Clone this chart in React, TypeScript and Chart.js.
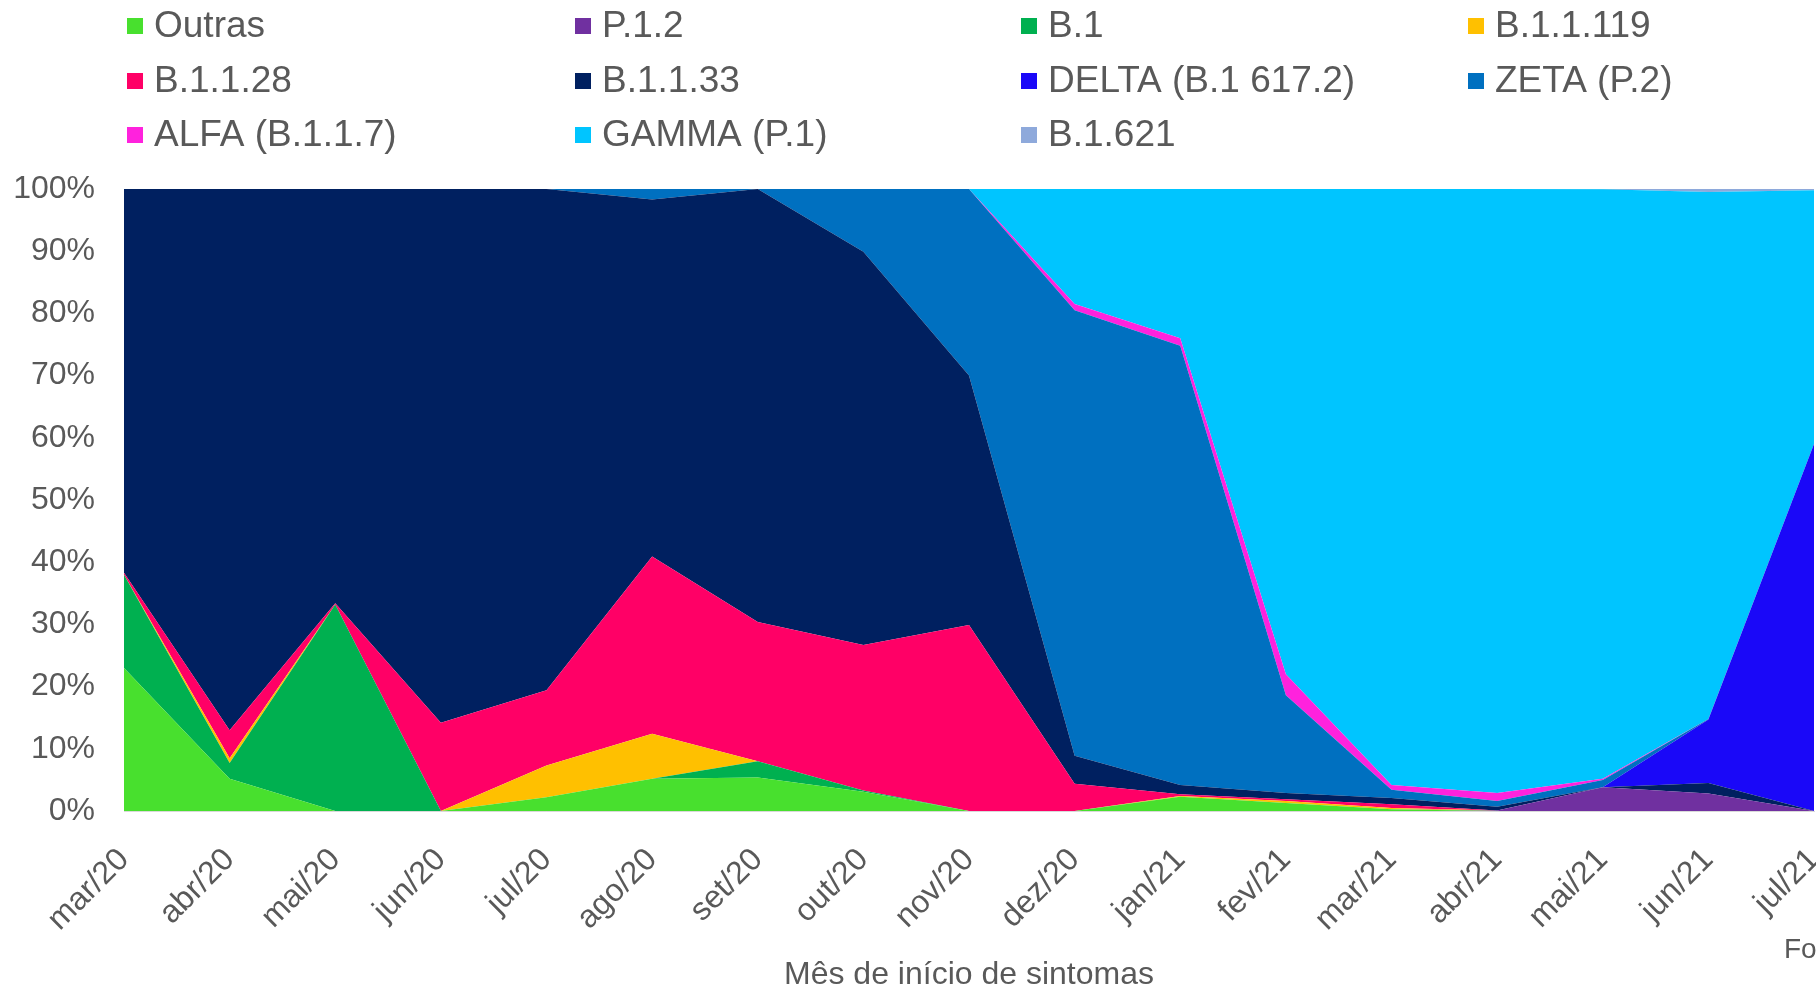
import React, { useEffect, useRef } from "react";
import { Chart, registerables } from "chart.js";
Chart.register(...registerables);

const months = ["mar/20", "abr/20", "mai/20", "jun/20", "jul/20", "ago/20", "set/20", "out/20", "nov/20", "dez/20", "jan/21", "fev/21", "mar/21", "abr/21", "mai/21", "jun/21", "jul/21"];

const outras = [23, 5.2, 0, 0, 2.2, 5.2, 5.4, 3.1, 0, 0, 2.3, 1.3, 0.3, 0, 0, 0, 0];
const p12 = [0, 0, 0, 0, 0, 0, 0, 0, 0, 0, 0, 0, 0, 0.1, 3.8, 2.8, 0];
const b1 = [15, 2.5, 33.2, 0, 0, 0, 2.6, 0.2, 0, 0, 0, 0, 0, 0, 0, 0, 0];
const b11119 = [0, 0.8, 0, 0, 5.1, 7.2, 0, 0, 0, 0, 0.1, 0.3, 0.2, 0, 0, 0, 0];
const b1128 = [0.3, 4.5, 0.2, 14.2, 12.1, 28.5, 22.4, 23.4, 29.9, 4.4, 0.3, 0.3, 0.6, 0, 0, 0, 0];
const b1133 = [61.7, 87, 66.6, 85.8, 80.6, 57.4, 69.6, 63.2, 40.1, 4.5, 1.5, 1.0, 1.0, 0.6, 0, 1.7, 0];
const delta = [0, 0, 0, 0, 0, 0, 0, 0, 0, 0, 0, 0, 0, 0, 0, 10.2, 59.0];
const zeta = [0, 0, 0, 0, 0, 1.7, 0, 10.1, 30.0, 71.6, 70.6, 15.7, 1.3, 0.9, 1.2, 0.1, 0];
const alfa = [0, 0, 0, 0, 0, 0, 0, 0, 0, 1.0, 1.2, 3.4, 0.8, 1.3, 0.2, 0, 0];
const gamma = [0, 0, 0, 0, 0, 0, 0, 0, 0, 18.5, 24.0, 78.0, 95.8, 97.1, 94.75, 84.7, 40.8];
const b1621 = [0, 0, 0, 0, 0, 0, 0, 0, 0, 0, 0, 0, 0, 0, 0.05, 0.5, 0.2];

const seriesNames = ["Outras", "P.1.2", "B.1", "B.1.1.119", "B.1.1.28", "B.1.1.33", "DELTA (B.1 617.2)", "ZETA (P.2)", "ALFA (B.1.1.7)", "GAMMA (P.1)", "B.1.621"];
const seriesColors = ["#48E02E", "#7030A0", "#00B050", "#FFC000", "#FF0066", "#002060", "#1A08F8", "#0070C0", "#FF22DD", "#00C5FF", "#8EA9DB"];

const yTicks = [0, 10, 20, 30, 40, 50, 60, 70, 80, 90, 100];

const xTitle = "Mês de início de sintomas";
const sourceText = "Fonte:";

const TEXT = "#595959";
const FONT = "'Liberation Sans', Arial, sans-serif";

const legendCols = [127, 575, 1021, 1468];
const legendRows = [26, 81, 135];

const legendPlugin = {
  id: "gridLegend",
  afterDraw(chart: any) {
    const ctx = chart.ctx;
    ctx.save();
    chart.data.datasets.forEach((ds: any, i: number) => {
      const col = i % 4;
      const row = Math.floor(i / 4);
      const x = legendCols[col];
      const y = legendRows[row];
      ctx.fillStyle = ds.backgroundColor;
      ctx.fillRect(x, y - 8, 16, 16);
      ctx.fillStyle = TEXT;
      ctx.font = `37px ${FONT}`;
      ctx.textAlign = "left";
      ctx.textBaseline = "middle";
      ctx.fillText(ds.label, x + 27, y + 1);
    });
    ctx.font = `28px ${FONT}`;
    ctx.fillStyle = TEXT;
    ctx.textAlign = "left";
    ctx.textBaseline = "middle";
    ctx.fillText(sourceText, 1784, 950);
    ctx.restore();
  },
};

export default function App() {
  const ref = useRef<HTMLCanvasElement>(null);
  useEffect(() => {
    document.body.style.margin = "0";
    document.body.style.overflow = "hidden";
    const series = [outras, p12, b1, b11119, b1128, b1133, delta, zeta, alfa, gamma, b1621];
    const chart = new Chart(ref.current as HTMLCanvasElement, {
      type: "line",
      data: {
        labels: months,
        datasets: series.map((d, i) => ({
          label: seriesNames[i],
          data: d,
          backgroundColor: seriesColors[i],
          borderColor: "transparent",
          borderWidth: 0,
          pointRadius: 0,
          pointHoverRadius: 0,
          fill: i === 0 ? "origin" : "-1",
          tension: 0,
        })),
      },
      options: {
        animation: false,
        responsive: false,
        maintainAspectRatio: false,
        layout: { padding: { top: 189, left: 14, right: 2, bottom: 0 } },
        plugins: { legend: { display: false }, tooltip: { enabled: false } },
        scales: {
          x: {
            grid: { display: false, drawTicks: false },
            border: { display: true, color: "#D9D9D9", width: 1 },
            ticks: {
              color: TEXT,
              font: { size: 32, family: FONT },
              minRotation: 45,
              maxRotation: 45,
              padding: 30,
              autoSkip: false,
            },
            title: {
              display: true,
              text: xTitle,
              color: TEXT,
              font: { size: 32, family: FONT, lineHeight: 1 },
              padding: { top: 0, bottom: 0 },
            },
            afterFit: (s: any) => {
              s.height = 991 - 811;
              s.paddingRight = 0;
              s.paddingLeft = 0;
            },
          },
          y: {
            stacked: true,
            min: 0,
            max: 100,
            afterBuildTicks: (s: any) => {
              s.ticks = yTicks.map((v) => ({ value: v }));
            },
            grid: { color: "#D9D9D9", drawTicks: false },
            border: { display: false },
            ticks: {
              color: TEXT,
              font: { size: 32, family: FONT },
              padding: 29,
              callback: (v: any) => v + "%",
            },
            afterFit: (s: any) => {
              s.width = 110;
              s.paddingTop = 0;
              s.paddingBottom = 0;
            },
          },
        },
      },
      plugins: [legendPlugin],
    });
    return () => chart.destroy();
  }, []);
  return (
    <div style={{ width: 1816, height: 991, overflow: "hidden" }}>
      <canvas ref={ref} width={1816} height={991} style={{ display: "block", width: 1816, height: 991 }} />
    </div>
  );
}
